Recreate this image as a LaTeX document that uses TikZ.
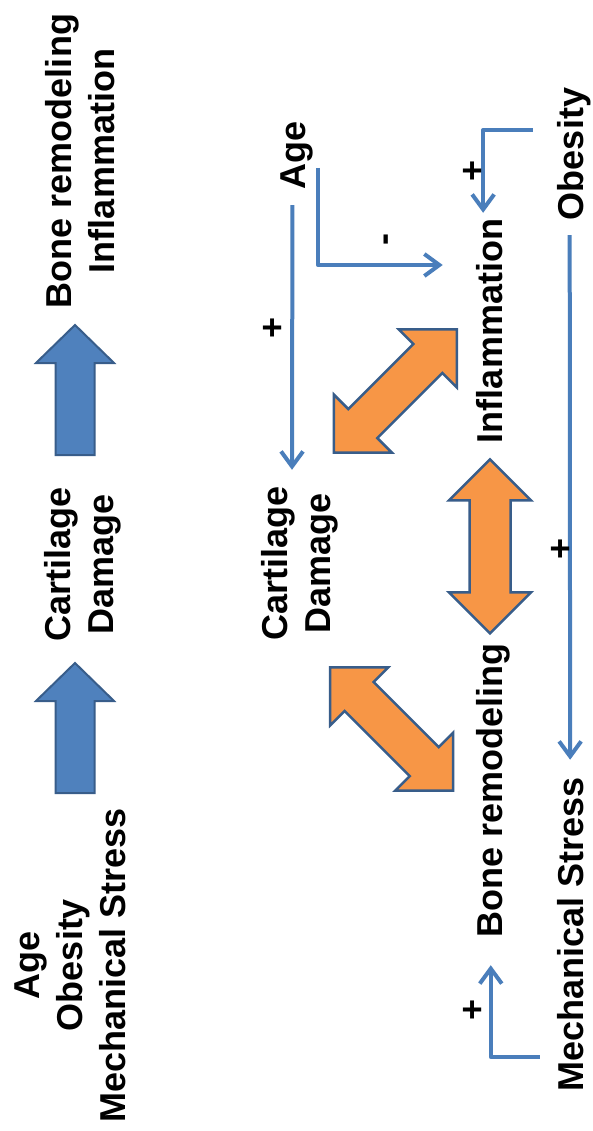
\documentclass[tikz,border=0pt]{standalone}
\usepackage{fontspec}
\setmainfont{Liberation Sans}
\usetikzlibrary{arrows.meta}
\definecolor{blockblue}{HTML}{4F81BD}
\definecolor{edgeblue}{HTML}{385D8A}
\definecolor{lineblue}{HTML}{4A7EBB}
\definecolor{orangefill}{HTML}{F79646}
\tikzset{
 lbl/.style={rotate=90, inner sep=2pt, font=\fontsize{36}{43}\selectfont\bfseries, align=center, text=black},
 sign/.style={rotate=90, inner sep=0pt, font=\fontsize{36}{43}\selectfont\bfseries, text=black},
 conn/.style={draw=lineblue, line width=4pt, line join=round, -{Straight Barb[length=15pt,width=22pt]}},
 blockarrow/.style={fill=blockblue, draw=edgeblue, line width=2pt},
 dblarrow/.style={fill=orangefill, draw=edgeblue, line width=2.5pt},
 blockup/.pic={\path[blockarrow] (-19.5,0) -- (-19.5,-92) -- (-39,-92) -- (0,-130) -- (39,-92) -- (19.5,-92) -- (19.5,0) -- cycle;},
 twoway/.pic={\path[dblarrow] (87,0) -- (46,41) -- (46,20.5) -- (-46,20.5) -- (-46,41) -- (-87,0) -- (-46,-41) -- (-46,-20.5) -- (46,-20.5) -- (46,-41) -- cycle;}
}
\begin{document}
\begin{tikzpicture}[x=1pt,y=-1pt]
\useasboundingbox[fill=white] (0,0) rectangle (592,1131);
% left column
\node[lbl] (bremL) at (80,161) {Bone remodeling\\Inflammation};
\node[lbl] (cartL) at (83,564) {Cartilage\\Damage};
\node[lbl] (causeL) at (70,965) {Age\\Obesity\\Mechanical Stress};
\pic at (75,455) {blockup};
\pic at (75,793) {blockup};
% right diagram nodes
\node[lbl, anchor=base] (ageR) at (305,155) {Age};
\node[lbl, anchor=base] (obesR) at (583,154) {Obesity};
\node[lbl, anchor=base] (inflR) at (502,331) {Inflammation};
\node[lbl] (cartR) at (300,563) {Cartilage\\Damage};
\node[lbl, anchor=base] (bremR) at (502,790) {Bone remodeling};
\node[lbl, anchor=base] (mechR) at (583,934) {Mechanical Stress};
% orange double arrows
\pic[rotate=45] at (395.3,391) {twoway};
\pic[rotate=90] at (490,546.3) {twoway};
\pic[rotate=-45] at (391.7,729) {twoway};
% connectors
\draw[conn] ([xshift=-4pt,yshift=-14pt]ageR.west) -- ([xshift=-8pt,yshift=14pt]cartR.east);
\draw[conn] ([xshift=3pt,yshift=-13pt]ageR.south) |- ([xshift=-31pt,yshift=66pt]inflR.north);
\draw[conn] ([xshift=-22pt,yshift=24pt]obesR.north) -| ([xshift=-6pt,yshift=4pt]inflR.east);
\draw[conn] ([xshift=-4pt,yshift=-13pt]obesR.west) -- ([yshift=15pt]mechR.east);
\draw[conn] ([xshift=-15pt,yshift=-123pt]mechR.north) -| ([xshift=-2pt,yshift=-26pt]bremR.west);
% signs
\node[sign] (p1) at (274,328) {+};
\node[sign] (m1) at (390,240) {-};
\node[sign] (p2) at (474,171) {+};
\node[sign] (p3) at (562,549) {+};
\node[sign] (p4) at (474,1010) {+};
\end{tikzpicture}
\end{document}
